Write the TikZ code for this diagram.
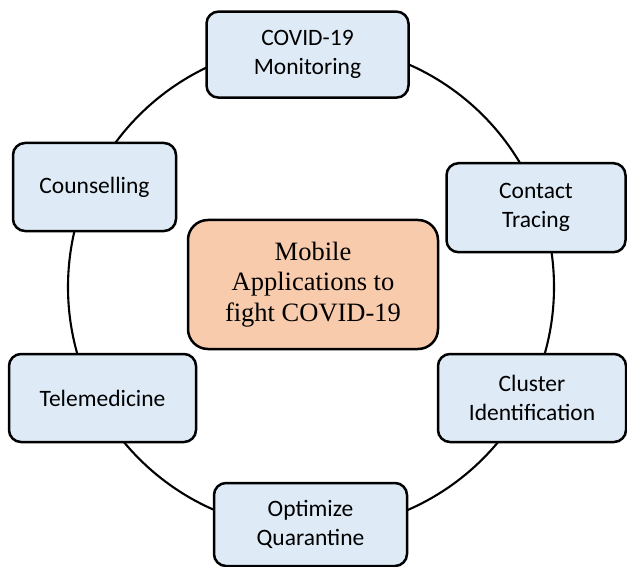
\documentclass[tikz,border=0pt]{standalone}
\usepackage{fontspec}
\setmainfont{Liberation Serif}
\newfontfamily\labelfont{Carlito}
\definecolor{boxblue}{HTML}{DEEBF7}
\definecolor{hubpeach}{HTML}{F8CBAD}
\tikzset{
  ring/.style={line width=2.1pt, draw=black},
  itembox/.style={draw=black, line width=2.5pt, fill=boxblue, rounded corners=12pt,
    align=center, inner sep=0pt,
    font=\labelfont\fontsize{23.5}{29}\selectfont},
  hubbox/.style={draw=black, line width=2.5pt, fill=hubpeach, rounded corners=20pt,
    align=center, inner sep=0pt,
    font=\fontsize{26.5}{30.5}\selectfont},
}
\begin{document}
\begin{tikzpicture}[x=1pt,y=-1pt]
\useasboundingbox (0,0) rectangle (627,567);
% ring behind the items
\coordinate (ringc) at (311,287);
\draw[ring] (ringc) circle[radius=243pt];
% outer items
\node[itembox, minimum width=202pt, minimum height=86pt] (mon) at (307.5,54.6) {COVID-19\\Monitoring};
\node[itembox, minimum width=163pt, minimum height=88pt] (cou) at (94.5,187) {Counselling};
\node[itembox, minimum width=179pt, minimum height=89pt] (con) at (536,207.7) {Contact\\Tracing};
\node[itembox, minimum width=187pt, minimum height=88pt] (tel) at (102.5,398) {Telemedicine};
\node[itembox, minimum width=188pt, minimum height=88pt] (clu) at (532,398) {Cluster\\Identification};
\node[itembox, minimum width=193pt, minimum height=83pt] (opt) at (310.5,524.5) {Optimize\\Quarantine};
% central item
\node[hubbox, minimum width=250pt, minimum height=129pt] (hub) at (313,284.5) {Mobile\\Applications to\\fight COVID-19};
\end{tikzpicture}
\end{document}
